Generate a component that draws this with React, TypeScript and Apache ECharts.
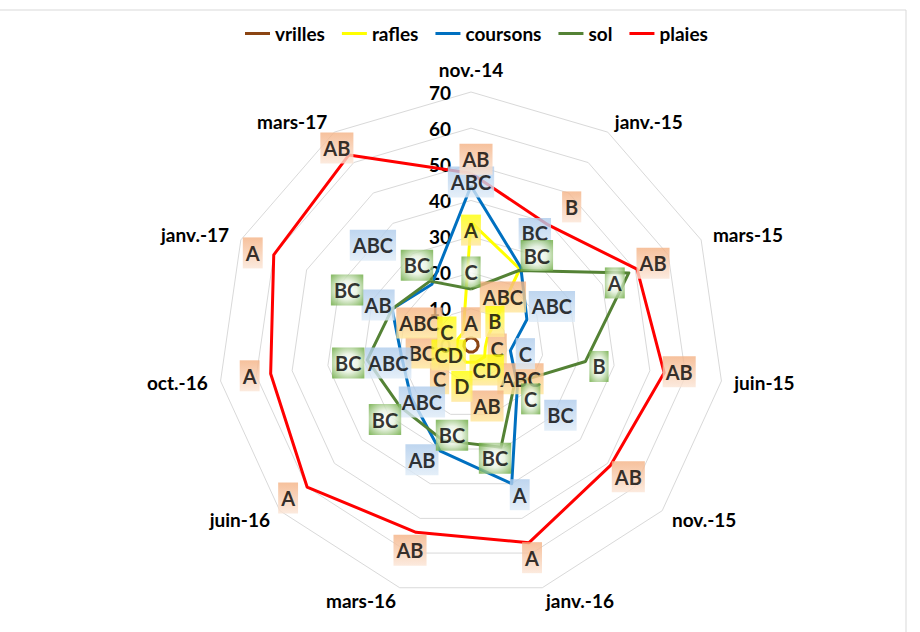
import React, { useEffect, useRef } from 'react';
import * as echarts from 'echarts';

// ---------- data ----------
const categories = ['nov.-14', 'janv.-15', 'mars-15', 'juin-15', 'nov.-15', 'janv.-16', 'mars-16', 'juin-16', 'oct.-16', 'janv.-17', 'mars-17'];
const seriesNames = ['vrilles', 'rafles', 'coursons', 'sol', 'plaies'];

const vrilles = [2, 2, 2, 2, 2, 2, 2, 2, 2, 2, 2];
const rafles = [34, 25, 5, 4, 5, 5, 5, 4, 4, 4, 4];
const coursons = [44, 25.5, 17, 11, 17, 40, 30.5, 22, 19.5, 24, 20];
const sol = [15.5, 24.5, 48, 32, 16, 29.5, 27.5, 26, 29, 24, 21];
const plaies = [47.5, 39.5, 50.5, 54, 51, 57, 54, 60, 56, 60, 62.5];

const vrillesLetters = ['A', 'ABC', '', 'C', 'ABC', 'AB', '', 'C', 'BC', 'ABC', ''];
const raflesLetters = ['A', '', 'B', '', '', 'CD', 'D', '', 'CD', 'C', ''];
const coursonsLetters = ['ABC', 'BC', 'ABC', 'C', 'BC', 'A', 'AB', 'ABC', 'ABC', 'AB', 'ABC'];
const solLetters = ['C', 'BC', 'A', 'B', 'C', 'BC', 'BC', 'BC', 'BC', 'BC', 'BC'];
const plaiesLetters = ['AB', 'B', 'AB', 'AB', 'AB', 'A', 'AB', 'A', 'A', 'A', 'AB'];

const axisMin = 0;
const axisMax = 70;
const axisStep = 10;

// ---------- layout (label placement relative to each point, px) ----------
const LABEL_OFFSETS: Record<string, number[][]> = {
  vrilles: [[0, -15], [28, -42], [0, 0], [19, 3], [44, 29], [14, 54], [0, 0], [-26, 29], [-42, 7], [-45, -19], [0, 0]],
  rafles: [[0, 8], [0, 0], [7.5, -16], [0, 0], [0, 0], [10.6, 7.6], [-4, 24], [0, 0], [-8, 8], [-11, -7], [0, 0]],
  coursons: [[0, -4], [14, -34], [25, -13], [15, 3], [43, 30], [8, 11], [-18, 9], [11, 5], [-13, 8], [-14, -4], [-59, -39]],
  sol: [[0, -17], [18, -15], [-14, 10], [13.5, 5], [16, 16], [-6, 11], [9, -5], [-15, 13], [-19, 3], [-45, -19], [-13, -16]],
  plaies: [[5, -14], [23.5, -18], [16, -6], [15, -1], [18, 11], [3, 15], [-6, 18], [-19, 11], [-21, 2], [-21, -2], [-12, -7]],
};

const FONT = 'Lato, "Noto Sans", sans-serif';
const CENTER = [471, 345];
const RADIUS = 253;

const linear = (top: string, bottom: string) => ({
  type: 'linear', x: 0, y: 0, x2: 0, y2: 1,
  colorStops: [{ offset: 0, color: top }, { offset: 1, color: bottom }],
});
const radialGreen = {
  type: 'radial', x: 0.5, y: 0.5, r: 0.65,
  colorStops: [
    { offset: 0, color: '#ffffff' },
    { offset: 0.45, color: '#e6f1de' },
    { offset: 1, color: '#70ad47' },
  ],
};

const SERIES = [
  { name: 'vrilles', values: vrilles, letters: vrillesLetters, color: '#8b4513', box: linear('#f4b183', '#ffe699') },
  { name: 'rafles', values: rafles, letters: raflesLetters, color: '#ffff00', box: linear('#ffff00', '#ffe699') },
  { name: 'coursons', values: coursons, letters: coursonsLetters, color: '#0070c0', box: linear('#aecbeb', '#deebf7') },
  { name: 'sol', values: sol, letters: solLetters, color: '#548235', box: radialGreen },
  { name: 'plaies', values: plaies, letters: plaiesLetters, color: '#ff0000', box: linear('#f4b183', '#fbe5d6') },
];

// ECharts radar runs counter-clockwise; the reference runs clockwise.
const radarOrder = categories.map((_, i) => (i === 0 ? 0 : categories.length - i));

function buildOption() {
  const radarSeries = SERIES.map((s, k) => ({
    type: 'radar',
    name: s.name,
    radarIndex: 0,
    symbol: 'none',
    color: s.color,
    itemStyle: { color: s.color },
    lineStyle: { color: s.color, width: 3 },
    z: 2 + k * 0.01,
    silent: true,
    data: [{ name: s.name, value: radarOrder.map((i) => s.values[i]) }],
  }));

  const labelSeries = SERIES.map((s, k) => ({
    type: 'scatter',
    name: s.name + ' labels',
    coordinateSystem: 'polar',
    symbolSize: 1,
    itemStyle: { color: 'rgba(0,0,0,0)' },
    silent: true,
    z: 5 + k,
    label: {
      show: true,
      position: 'inside',
      color: '#000',
      fontFamily: FONT,
      fontWeight: 'bold',
      fontSize: 20,
      lineHeight: 22,
      padding: [5, 3, 4, 3],
      backgroundColor: s.box,
    },
    emphasis: { disabled: true },
    data: s.values.map((v, i) => ({
      value: [v, categories[i]],
      label: {
        show: s.letters[i] !== '',
        offset: LABEL_OFFSETS[s.name][i],
        formatter: s.letters[i] || ' ',
        padding: [5, 3, 4, 3],
        lineHeight: 22,
      },
    })),
  }));

  return {
    animation: false,
    backgroundColor: '#ffffff',
    graphic: [
      {
        type: 'rect',
        shape: { x: -5, y: 10, width: 911, height: 640 },
        style: { fill: 'none', stroke: '#d9d9d9', lineWidth: 1 },
        silent: true,
        z: 0,
      },
    ],
    legend: {
      data: seriesNames,
      top: 19,
      left: 240,
      icon: 'rect',
      itemWidth: 25,
      itemHeight: 3,
      itemGap: 17,
      selectedMode: false,
      textStyle: { color: '#000', fontFamily: FONT, fontWeight: 'bold', fontSize: 19 },
    },
    radar: {
      center: CENTER,
      radius: RADIUS,
      startAngle: 90,
      shape: 'polygon',
      splitNumber: (axisMax - axisMin) / axisStep,
      nameGap: 13,
      indicator: radarOrder.map((i) => ({ name: categories[i], min: axisMin, max: axisMax })),
      axisName: { color: '#000', fontFamily: FONT, fontWeight: 'bold', fontSize: 19 },
      splitLine: { lineStyle: { color: '#d9d9d9', width: 1 } },
      splitArea: { show: false },
      axisLine: { show: false },
      axisTick: { show: false },
      axisLabel: { show: false },
    },
    polar: { center: CENTER, radius: RADIUS },
    angleAxis: {
      type: 'category',
      data: categories,
      startAngle: 90,
      clockwise: true,
      boundaryGap: false,
      axisLine: { show: false },
      axisTick: { show: false },
      axisLabel: { show: false },
      splitLine: { show: false },
    },
    radiusAxis: {
      type: 'value',
      min: axisMin,
      max: axisMax,
      interval: axisStep,
      axisLine: { show: false },
      axisTick: { show: false },
      splitLine: { show: false },
      axisLabel: { show: true, margin: 20, color: '#000', fontFamily: FONT, fontWeight: 'bold', fontSize: 19 },
      z: 1,
    },
    series: [...radarSeries, ...labelSeries],
  };
}

export default function App() {
  const ref = useRef<HTMLDivElement>(null);
  useEffect(() => {
    if (!ref.current) return;
    const chart = echarts.init(ref.current, null, { renderer: 'svg' });
    chart.setOption(buildOption() as any);
    return () => chart.dispose();
  }, []);
  return (
    <div
      ref={ref}
      style={{ position: 'fixed', left: 0, top: 0, width: 920, height: 632, background: '#fff' }}
    />
  );
}
